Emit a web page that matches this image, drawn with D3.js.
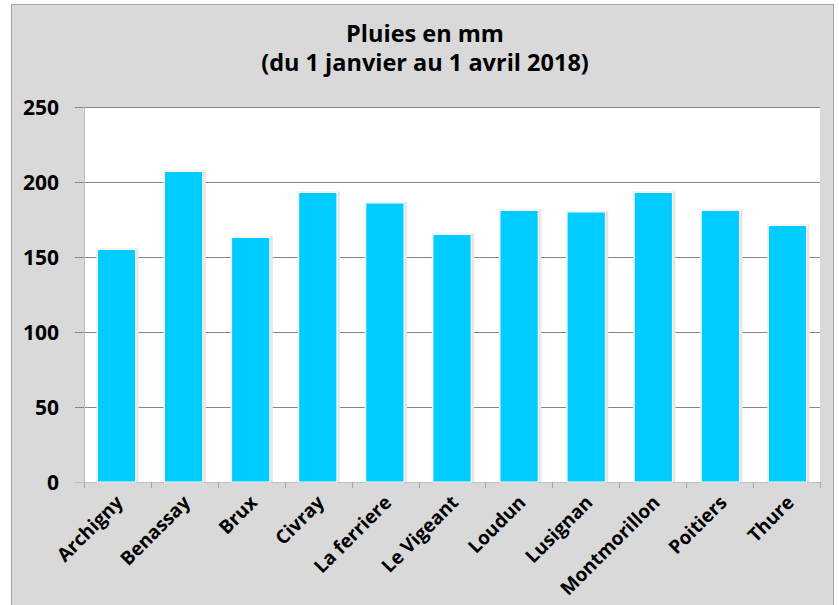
<!DOCTYPE html>
<html>
<head>
<meta charset="utf-8">
<script src="https://cdn.jsdelivr.net/npm/d3@7"></script>
<style>
  body { margin: 0; background: white; }
  text { font-family: "Open Sans", sans-serif; font-weight: bold; fill: #000; }
</style>
</head>
<body>
<div id="chart"></div>
<script>
// DATA
var villes = ["Archigny", "Benassay", "Brux", "Civray", "La ferriere", "Le Vigeant",
  "Loudun", "Lusignan", "Montmorillon", "Poitiers", "Thure"];
var pluies = [155, 207, 163, 193, 186, 165, 181, 180, 193, 181, 171];
var yTicks = [0, 50, 100, 150, 200, 250];
var titre = ["Pluies en mm", "(du 1 janvier au 1 avril 2018)"];

// SIZING
var W = 839, H = 605;
var margin = {top: 107, right: 19, bottom: 123, left: 84};
var width = W - margin.left - margin.right;
var height = H - margin.top - margin.bottom;

var svg = d3.select("#chart").append("svg")
  .attr("width", W).attr("height", H);

// outer frame
svg.append("rect")
  .attr("x", 11.5).attr("y", 4.5)
  .attr("width", 822).attr("height", H)
  .attr("fill", "#d9d9d9")
  .attr("stroke", "#a6a6a6").attr("stroke-width", 1);

// title
svg.selectAll(".titre").data(titre).enter().append("text")
  .attr("class", "titre")
  .attr("x", 425)
  .attr("y", function (d, i) { return 42 + i * 29; })
  .attr("text-anchor", "middle")
  .style("font-size", "23.5px")
  .text(function (d) { return d; });

var g = svg.append("g").attr("transform", "translate(" + margin.left + "," + margin.top + ")");

var x = d3.scaleBand().domain(villes).range([0, width]).paddingInner(0.43).paddingOuter(0.2);
var xEdges = d3.scaleLinear().domain([0, villes.length]).range([0, width]);
var y = d3.scaleLinear().domain([0, 250]).range([height, 0]);

// plot area
g.append("rect").attr("width", width).attr("height", height).attr("fill", "white");

// gridlines
g.selectAll(".grid").data(yTicks.slice(1)).enter().append("line")
  .attr("x1", -9).attr("x2", width)
  .attr("y1", function (d) { return Math.round(y(d)) + 0.5; })
  .attr("y2", function (d) { return Math.round(y(d)) + 0.5; })
  .attr("stroke", "#868686").attr("stroke-width", 1.2);

// y labels
g.selectAll(".ylab").data(yTicks).enter().append("text")
  .attr("x", -25)
  .attr("y", function (d) { return y(d); })
  .attr("dy", "0.36em")
  .attr("text-anchor", "end")
  .style("font-size", "21px")
  .text(function (d) { return d; });

// axes lines
g.append("line").attr("x1", 0.5).attr("x2", 0.5).attr("y1", 0).attr("y2", height + 6)
  .attr("stroke", "#bfbfbf");
g.append("line").attr("x1", -9).attr("x2", width).attr("y1", height + 0.5).attr("y2", height + 0.5)
  .attr("stroke", "#bfbfbf");
g.selectAll(".xtick").data(d3.range(villes.length + 1)).enter().append("line")
  .attr("x1", function (d) { return Math.round(xEdges(d)) + 0.5; })
  .attr("x2", function (d) { return Math.round(xEdges(d)) + 0.5; })
  .attr("y1", height).attr("y2", height + 6)
  .attr("stroke", "#a6a6a6");

// bars: shadow then bar
g.selectAll(".ombre").data(pluies).enter().append("rect")
  .attr("x", function (d, i) { return x(villes[i]) - 1; })
  .attr("y", function (d) { return y(d) - 1; })
  .attr("width", x.bandwidth() + 4)
  .attr("height", function (d) { return height - y(d) + 1; })
  .attr("fill", "#e6e6e6");

g.selectAll(".bar").data(pluies).enter().append("rect")
  .attr("x", function (d, i) { return x(villes[i]); })
  .attr("y", function (d) { return y(d); })
  .attr("width", x.bandwidth())
  .attr("height", function (d) { return height - y(d); })
  .attr("fill", "#00ccff")
  .attr("stroke", "white").attr("stroke-width", 1);

// x labels
g.selectAll(".xlab").data(villes).enter().append("text")
  .attr("transform", function (d) {
    return "translate(" + (x(d) + x.bandwidth() / 2 + 3) + "," + (height + 17) + ") rotate(-45)";
  })
  .attr("text-anchor", "end")
  .attr("dy", "0.35em")
  .style("font-size", "19px")
  .text(function (d) { return d; });
</script>
</body>
</html>
